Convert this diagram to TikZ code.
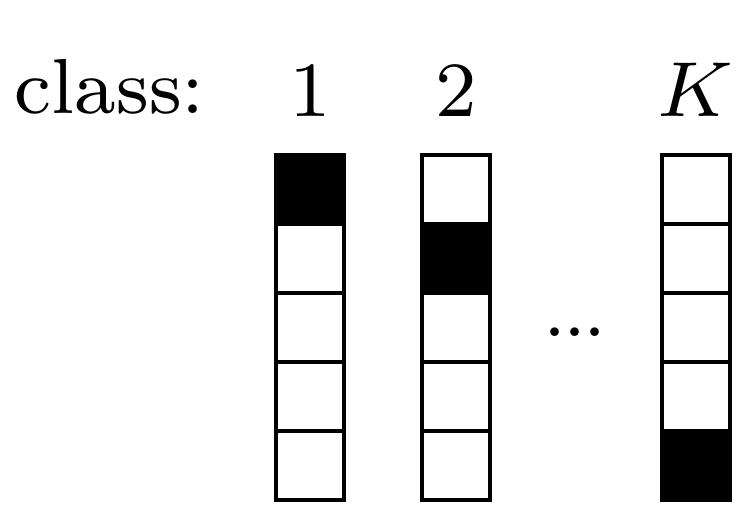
\documentclass[tikz,border=0pt]{standalone}
\begin{document}
\begin{tikzpicture}[x=0.25pt,y=-0.25pt,
  cell/.style={draw=black,line width=1pt,minimum width=17pt,minimum height=17.25pt,inner sep=0pt,outer sep=0pt,anchor=center},
  full/.style={cell,fill=black},
  lab/.style={inner sep=0pt,anchor=base,font=\fontsize{8}{10}\selectfont,scale=2.44}]
\useasboundingbox (0,0) rectangle (745,517);
\node[lab,anchor=base west] (cls) at (13,113.5) {class:};
\node[lab] (l1) at (310.2,116.5) {$1$};
\node[lab] (l2) at (455.9,116.5) {$2$};
\node[lab] (lK) at (695.7,116.5) {$K$};
\foreach \c/\x/\b in {a/310.2/1,b/455.9/2,k/695.7/5}{
  \foreach \r in {1,...,5}{
    \ifnum\r=\b
      \node[full] (\c\r) at (\x,{155.3+69*(\r-0.5)}) {};
    \else
      \node[cell] (\c\r) at (\x,{155.3+69*(\r-0.5)}) {};
    \fi
  }
}
\node[lab,anchor=center] (dots) at (575,332) {.\kern-0.3pt.\kern-0.3pt.};
\end{tikzpicture}
\end{document}
